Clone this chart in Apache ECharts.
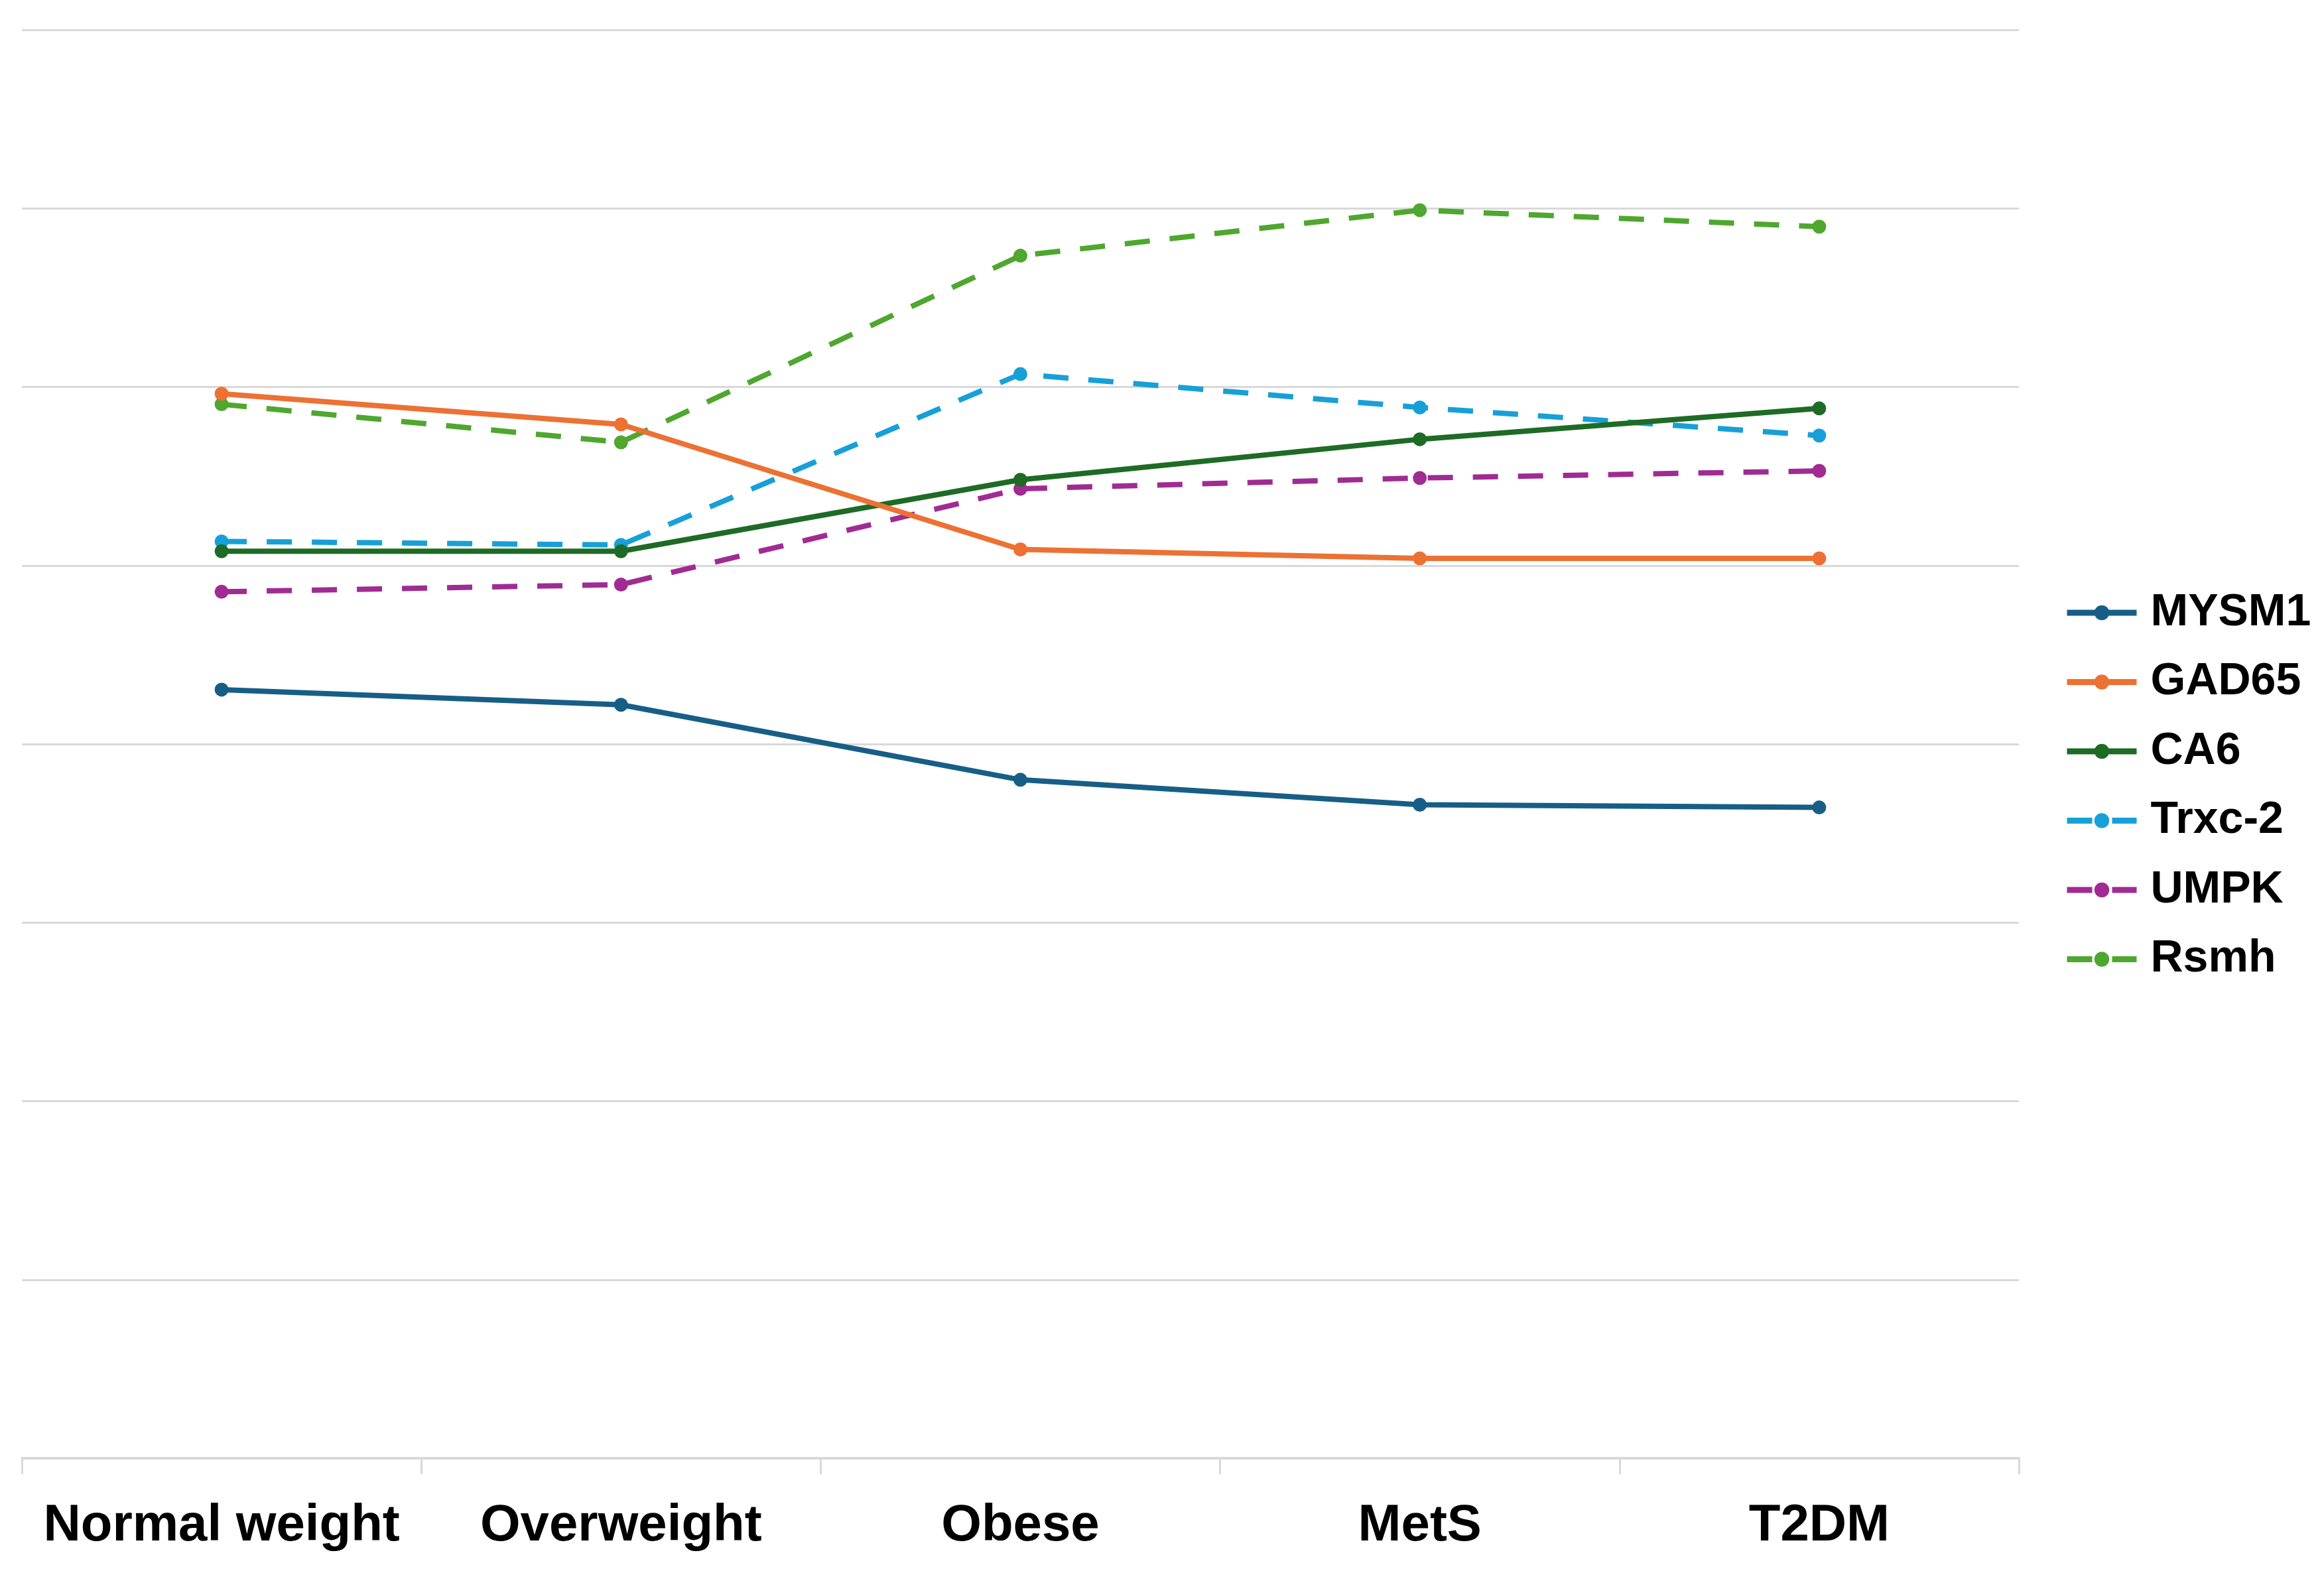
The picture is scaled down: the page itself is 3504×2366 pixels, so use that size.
<!DOCTYPE html>
<html>
<head>
<meta charset="utf-8">
<script src="https://cdn.jsdelivr.net/npm/echarts@6/dist/echarts.min.js"></script>
<style>
html,body{margin:0;padding:0;background:#fff;}
#chart{width:3504px;height:2366px;}
</style>
</head>
<body>
<div id="chart"></div>
<script>
const categories = ['Normal weight', 'Overweight', 'Obese', 'MetS', 'T2DM'];
const seriesNames = ['MYSM1', 'GAD65', 'CA6', 'Trxc-2', 'UMPK', 'Rsmh'];
const MYSM1 = [4.305, 4.22, 3.80, 3.66, 3.645];
const GAD65 = [5.962, 5.79, 5.09, 5.04, 5.04];
const CA6 = [5.08, 5.08, 5.48, 5.707, 5.88];
const Trxc2 = [5.135, 5.115, 6.072, 5.885, 5.728];
const UMPK = [4.853, 4.893, 5.43, 5.49, 5.53];
const Rsmh = [5.903, 5.69, 6.735, 6.99, 6.898];
const yTicks = [0, 1, 2, 3, 4, 5, 6, 7, 8];

const colors = ['#175E87', '#EC7133', '#1E6B25', '#17A0D8', '#A02B93', '#4EA72E'];
const dashed = [false, false, false, true, true, true];
const values = [MYSM1, GAD65, CA6, Trxc2, UMPK, Rsmh];

const chart = echarts.init(document.getElementById('chart'), null, {renderer: 'canvas'});
const FONT = '"Liberation Sans", Arial, sans-serif';

const series = seriesNames.map((name, i) => ({
  name: name,
  type: 'line',
  data: values[i],
  symbol: 'circle',
  symbolSize: 21,
  showSymbol: true,
  z: 10 - i,
  itemStyle: {color: colors[i]},
  lineStyle: {color: colors[i], width: 8, type: dashed[i] ? [38, 30] : 'solid'},
  emphasis: {disabled: true},
  animation: false
}));

chart.setOption({
  animation: false,
  backgroundColor: '#ffffff',
  grid: {left: 33, right: 460, top: 45, bottom: 167, containLabel: false},
  xAxis: {
    type: 'category',
    data: categories,
    boundaryGap: true,
    axisLine: {show: true, lineStyle: {color: '#d9d9d9', width: 4}},
    axisTick: {show: true, alignWithLabel: false, length: 24, lineStyle: {color: '#d9d9d9', width: 3}},
    axisLabel: {color: '#000', fontSize: 78, fontWeight: 'bold', fontFamily: FONT, margin: 63, interval: 0},
    splitLine: {show: false}
  },
  yAxis: {
    type: 'value',
    min: yTicks[0],
    max: yTicks[yTicks.length - 1],
    interval: 1,
    axisLine: {show: false},
    axisTick: {show: false},
    axisLabel: {show: false},
    splitLine: {show: true, lineStyle: {color: '#d9d9d9', width: 3}}
  },
  legend: {
    orient: 'vertical',
    left: 3107,
    top: 885,
    itemWidth: 105,
    itemHeight: 28,
    itemGap: 36.5,
    data: seriesNames,
    lineStyle: {width: 9},
    itemStyle: {borderWidth: 0},
    textStyle: {color: '#000', fontSize: 68, fontWeight: 'bold', fontFamily: FONT, padding: [0, 0, 0, 16]},
    selectedMode: false
  },
  series: series
});
</script>
</body>
</html>
